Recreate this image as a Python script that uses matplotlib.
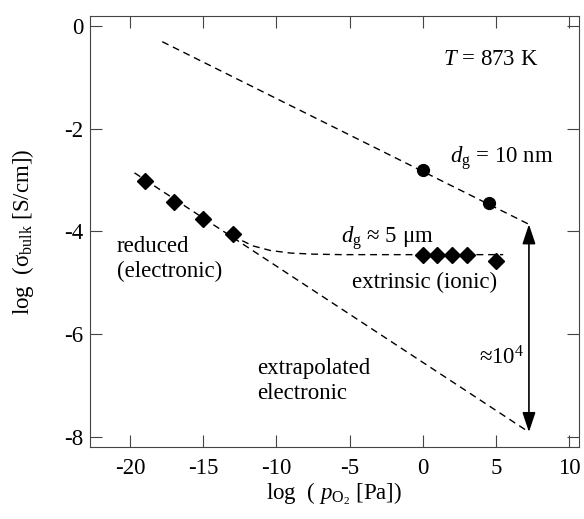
import numpy as np
import matplotlib.pyplot as plt

plt.rcParams['font.family'] = ['Liberation Serif', 'DejaVu Serif']
plt.rcParams['mathtext.fontset'] = 'custom'
plt.rcParams['mathtext.rm'] = 'Liberation Serif'
plt.rcParams['mathtext.it'] = 'Liberation Serif:italic'
plt.rcParams['axes.unicode_minus'] = False
plt.rcParams['font.size'] = 16.5

# reduced regime (d_g ~ 5 um)
red_x = [-19, -17, -15, -13]
red_y = [-3.02, -3.43, -3.75, -4.05]
# extrinsic (ionic) plateau
ion_x = [0, 1, 2, 3, 5]
ion_y = [-4.45, -4.45, -4.45, -4.45, -4.58]
# nanocrystalline, d_g = 10 nm
nano_x = [0, 4.5]
nano_y = [-2.80, -3.44]

# guide lines
nano_line_x = [-17.8, 7.26]
nano_line_y = [-0.31, -3.86]
elec_line_x = [-19.7, 7.26]
elec_line_y = [-2.86, -7.90]
total_x = [-13, -12.4, -11.6, -10.4, -9.0, -7.5, -5.5, 5.5]
total_y = [-4.05, -4.17, -4.28, -4.37, -4.42, -4.44, -4.45, -4.45]

fig = plt.figure(figsize=(5.84, 5.19), dpi=100)
ax = fig.add_axes([0.1541, 0.1387, 0.8373, 0.8305])

dash = (0, (5, 3.5))
ax.plot(nano_line_x, nano_line_y, color='black', lw=1.0, linestyle=dash)
ax.plot(elec_line_x, elec_line_y, color='black', lw=1.0, linestyle=dash)
ax.plot(total_x, total_y, color='black', lw=1.0, linestyle=dash)

ax.plot(red_x, red_y, 'D', color='black', ms=8, linestyle='none')
ax.plot(ion_x, ion_y, 'D', color='black', ms=8, linestyle='none')
ax.plot(nano_x, nano_y, 'o', color='black', ms=8.5, linestyle='none')

# factor between the two electronic lines
ax.annotate('', xy=(nano_line_x[1], nano_line_y[1]), xytext=(elec_line_x[1], elec_line_y[1]),
            arrowprops=dict(arrowstyle='<|-|>,head_length=0.6,head_width=0.2',
                            mutation_scale=20, color='black', lw=1.2,
                            shrinkA=0, shrinkB=0))

ax.text(1.37, -0.66, r'$T$ = 873 K', va='center', ha='left')
ax.text(1.85, -2.66, r'$d_{\mathrm{g}}$ = 10 nm', va='baseline', ha='left')
ax.text(-5.6, -4.22, r'$d_{\mathrm{g}}$ ≈ 5 μm', va='baseline', ha='left')
ax.text(-20.9, -4.89, 'reduced\n(electronic)', va='baseline', ha='left', linespacing=1.25)
ax.text(-4.8, -5.09, 'extrinsic (ionic)', va='baseline', ha='left')
ax.text(-11.3, -7.26, 'extrapolated\nelectronic', va='baseline', ha='left', linespacing=1.25)
ax.text(6.92, -6.58, r'≈10$^{4}$', va='baseline', ha='right')

ax.set_xlim(-22.74, 10.68)
ax.set_ylim(-8.19, 0.19)
ax.set_xticks([-20, -15, -10, -5, 0, 5, 10])
ax.set_yticks([0, -2, -4, -6, -8])
ax.tick_params(direction='in', length=8.5, width=0.8, color='#444444',
               top=True, right=True, labelsize=16.5)
ax.tick_params(axis='x', pad=8)
ax.tick_params(axis='y', pad=5)
for s in ax.spines.values():
    s.set_color('#444444')
    s.set_linewidth(0.8)

ax.set_xlabel(r'log  ( $p_{\mathrm{O}_2}$ [Pa])', fontsize=16.5)
ax.set_ylabel(r'log  (σ$_{\mathrm{bulk}}$ [S/cm])', fontsize=16.5)
ax.xaxis.set_label_coords(0.5, -0.078)
ax.yaxis.set_label_coords(-0.11, 0.5)

fig.savefig('out.png', dpi=100)
